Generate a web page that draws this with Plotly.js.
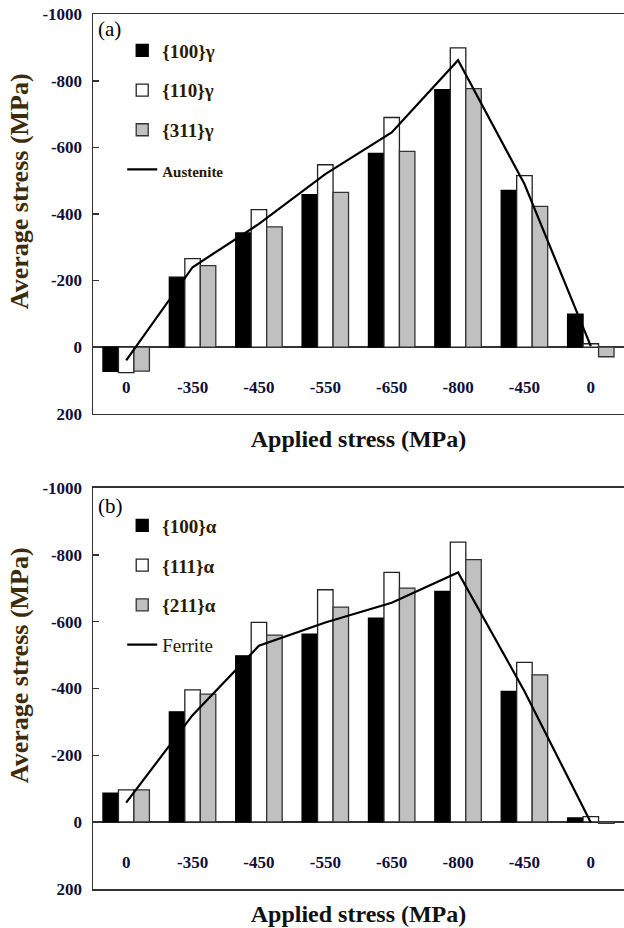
<!DOCTYPE html>
<html>
<head>
<meta charset="utf-8">
<script src="https://cdn.plot.ly/plotly-3.0.1.min.js"></script>
<style>html,body{margin:0;padding:0;background:#fff;}#chart{width:624px;height:928px;}</style>
</head>
<body>
<div id="chart"></div>
<script>
// Applied stress steps (category tick labels)
const categories = ['0', '-350', '-450', '-550', '-650', '-800', '-450', '0'];

// Panel (a): austenite
const gamma100 = [73, -210, -343, -458, -582, -774, -471, -99];
const gamma110 = [77, -266, -413, -548, -690, -899, -515, -10];
const gamma311 = [72, -245, -361, -465, -588, -777, -423, 29];
const austenite = [40, -240, -370, -520, -645, -862, -490, -3];

// Panel (b): ferrite
const alpha100 = [-86, -330, -498, -563, -611, -691, -391, -12];
const alpha111 = [-96, -396, -598, -696, -748, -839, -478, -16];
const alpha211 = [-96, -383, -560, -644, -701, -786, -441, 4];
const ferrite = [-58, -320, -528, -598, -657, -748, -392, 2];

// y tick values and their labels (plain hyphen-minus, as in the original)
const yTickVals = [-1000, -800, -600, -400, -200, 0, 200];
const yTickText = ['-1000', '-800', '-600', '-400', '-200', '0', '200'];

const xPos = categories.map((c, i) => i);

const serif = 'Liberation Serif, Times New Roman, serif';

function barTrace(y, name, fill, edge, xa, ya, leg) {
  return {
    type: 'bar', x: xPos, y: y, name: name, xaxis: xa, yaxis: ya,
    legend: leg, legendgroup: name + xa,
    marker: {color: fill, line: {color: edge, width: 1.3}},
    hoverinfo: 'y'
  };
}
function lineTrace(y, name, xa, ya, leg) {
  return {
    type: 'scatter', mode: 'lines', x: xPos, y: y, name: name,
    xaxis: xa, yaxis: ya, legend: leg, legendgroup: name + xa,
    line: {color: '#000', width: 2.2}
  };
}

const data = [
  barTrace(gamma100, '<b>{100}γ</b>', '#000000', '#000000', 'x', 'y', 'legend'),
  barTrace(gamma110, '<b>{110}γ</b>', '#ffffff', '#222222', 'x', 'y', 'legend'),
  barTrace(gamma311, '<b>{311}γ</b>', '#c0c0c0', '#333333', 'x', 'y', 'legend'),
  lineTrace(austenite, '<b><span style="font-size:15px">Austenite</span></b>', 'x', 'y', 'legend'),
  barTrace(alpha100, '<b>{100}α</b>', '#000000', '#000000', 'x2', 'y2', 'legend2'),
  barTrace(alpha111, '<b>{111}α</b>', '#ffffff', '#222222', 'x2', 'y2', 'legend2'),
  barTrace(alpha211, '<b>{211}α</b>', '#c0c0c0', '#333333', 'x2', 'y2', 'legend2'),
  lineTrace(ferrite, '<span style="font-size:19px">Ferrite</span>', 'x2', 'y2', 'legend2')
];

const xRange = [-0.5, categories.length - 0.5];

function xAxis(anchor) {
  return {
    anchor: anchor, domain: [0, 1], range: xRange,
    tickmode: 'array', tickvals: xPos, ticktext: categories,
    ticks: '', showgrid: false, zeroline: false,
    ticklabelstandoff: -43,
    tickfont: {family: serif, size: 17, color: '#10103a', weight: 'bold'},
    showline: true, mirror: true, linecolor: '#333', linewidth: 1.5,
    title: {text: '<b>Applied stress (MPa)</b>', font: {family: serif, size: 24, color: '#111'}, standoff: 34},
    automargin: false, fixedrange: true
  };
}
function yAxis(domain, anchor) {
  return {
    anchor: anchor, domain: domain,
    range: [201, -1001], tickmode: 'array', tickvals: yTickVals, ticktext: yTickText,
    ticks: 'inside', ticklen: 6, tickcolor: '#333', tickwidth: 1.3,
    ticklabelstandoff: 6,
    showgrid: false, zeroline: true, zerolinecolor: '#333', zerolinewidth: 1.5,
    showline: true, mirror: false, linecolor: '#333', linewidth: 1.5,
    tickfont: {family: serif, size: 17, color: '#10103a', weight: 'bold'},
    automargin: false, fixedrange: true
  };
}

const legendBase = {
  xanchor: 'left', yanchor: 'top', bgcolor: 'rgba(0,0,0,0)', borderwidth: 0,
  font: {family: serif, size: 19, color: '#2a1a00'}, tracegroupgap: 12,
  traceorder: 'grouped', orientation: 'v'
};

const yTitleFont = {family: serif, size: 26, color: '#3d2b0a'};

const layout = {
  width: 624, height: 928,
  margin: {l: 93, r: 0, t: 14, b: 39},
  paper_bgcolor: '#fff', plot_bgcolor: '#fff',
  barmode: 'group', bargap: 0.3, bargroupgap: 0,
  showlegend: true,
  xaxis: xAxis('y'),
  yaxis: yAxis([0.5429, 1], 'x'),
  xaxis2: xAxis('y2'),
  yaxis2: yAxis([0, 0.4583], 'x2'),
  legend: Object.assign({}, legendBase, {x: 0.055, y: 0.980}),
  legend2: Object.assign({}, legendBase, {x: 0.055, y: 0.437}),
  annotations: [
    {text: '(a)', xref: 'paper', yref: 'paper', x: 0.006, y: 0.983, xanchor: 'left', yanchor: 'middle', showarrow: false, font: {family: serif, size: 21, color: '#000'}},
    {text: '(b)', xref: 'paper', yref: 'paper', x: 0.006, y: 0.4377, xanchor: 'left', yanchor: 'middle', showarrow: false, font: {family: serif, size: 21, color: '#000'}},
    {text: '<b>Average stress (MPa)</b>', xref: 'paper', yref: 'paper', x: -0.139, y: 0.7977, xanchor: 'center', yanchor: 'middle', textangle: -90, showarrow: false, font: yTitleFont},
    {text: '<b>Average stress (MPa)</b>', xref: 'paper', yref: 'paper', x: -0.139, y: 0.256, xanchor: 'center', yanchor: 'middle', textangle: -90, showarrow: false, font: yTitleFont}
  ]
};

Plotly.newPlot('chart', data, layout, {displayModeBar: false, staticPlot: true});
</script>
</body>
</html>
